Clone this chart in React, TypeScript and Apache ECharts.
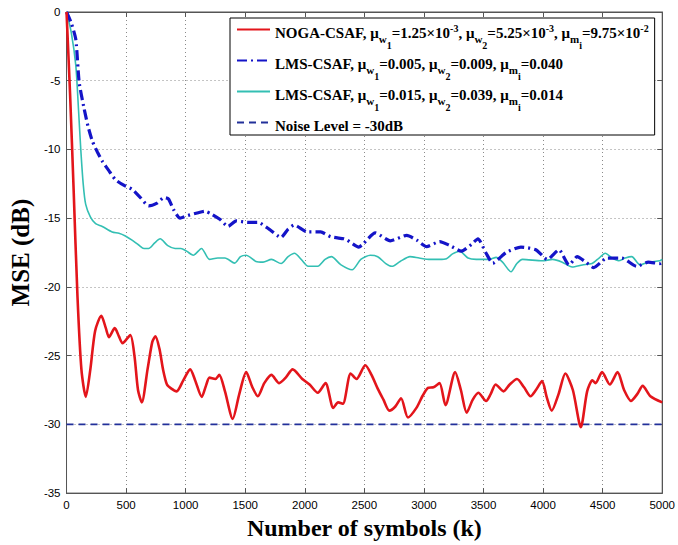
import React, { useEffect, useRef } from "react";
import * as echarts from "echarts";

const xTicks = [0, 500, 1000, 1500, 2000, 2500, 3000, 3500, 4000, 4500, 5000];
const yTicks = [0, -5, -10, -15, -20, -25, -30, -35];

const nogaCsaf: [number, number][] = [
  [0, 0], [30, -6], [60, -13], [92, -20.7], [125, -26], [162, -28], [200, -26], [240, -23.2], [292, -22.1],
  [330, -23], [356, -23.65], [405, -23.0], [440, -23.6], [470, -24.1], [535, -23.5], [570, -25], [600, -27.5],
  [632, -28.4], [680, -26], [720, -24], [746, -23.6], [780, -24.5], [810, -26], [843, -27.1], [880, -27.4],
  [924, -27.6], [980, -26.8], [1038, -26.0], [1080, -26.8], [1135, -28.0], [1170, -27.2], [1200, -26.6],
  [1249, -26.7], [1282, -26.4], [1330, -27.6], [1395, -29.6], [1450, -27.8], [1508, -26.2], [1560, -27.3],
  [1606, -27.95], [1660, -27], [1720, -26.4], [1785, -27.0], [1840, -26.6], [1898, -26.0], [1979, -26.7],
  [2040, -27.1], [2109, -27.7], [2174, -27.0], [2239, -28.8], [2280, -28.4], [2320, -28.5], [2385, -26.3],
  [2434, -26.7], [2508, -25.7], [2560, -26.4], [2612, -27.4], [2660, -28.2], [2710, -29.0], [2760, -28.7],
  [2808, -28.1], [2866, -29.5], [2937, -28.8], [2990, -27.9], [3034, -27.35], [3080, -27.3], [3131, -27.0],
  [3181, -28.6], [3262, -26.2], [3310, -27.5], [3359, -29.15], [3410, -28.2], [3457, -27.7], [3522, -28.3],
  [3560, -27.8], [3602, -27.1], [3668, -27.6], [3720, -27.1], [3781, -26.7], [3840, -27.3], [3895, -27.95],
  [3940, -27.5], [3992, -26.85], [4030, -28.0], [4073, -29.0], [4130, -27.8], [4187, -26.3], [4250, -27.5],
  [4317, -30.2], [4370, -27.6], [4414, -26.8], [4440, -27.0], [4495, -26.2], [4560, -27.1], [4625, -26.2],
  [4680, -27.5], [4738, -28.3], [4790, -27.8], [4836, -27.2], [4901, -27.95], [5000, -28.4],
];

const lmsCsafA: [number, number][] = [
  [0, 0], [40, -0.8], [78, -2.0], [106, -5.1], [147, -7.0], [180, -8.3], [217, -9.4], [260, -10.2],
  [300, -10.85], [360, -11.6], [411, -12.2], [480, -12.6], [550, -12.9], [620, -13.5], [689, -14.1],
  [760, -13.9], [820, -13.5], [856, -13.6], [900, -14.4], [953, -15.0], [1020, -14.8], [1106, -14.6],
  [1160, -14.5], [1217, -14.7], [1290, -15.1], [1356, -15.6], [1425, -15.2], [1520, -15.3], [1606, -15.3],
  [1700, -15.8], [1800, -16.4], [1860, -15.8], [1911, -15.5], [2022, -16.0], [2133, -16.0], [2217, -16.35],
  [2328, -16.5], [2356, -16.6], [2453, -17.1], [2481, -16.95], [2592, -16.07], [2717, -16.65], [2856, -16.25],
  [2940, -16.6], [3022, -17.07], [3133, -16.7], [3220, -17.0], [3314, -17.4], [3400, -16.9], [3453, -16.5],
  [3522, -17.55], [3578, -18.27], [3689, -17.5], [3814, -17.1], [3939, -17.3], [4036, -18.0], [4133, -17.3],
  [4217, -18.4], [4286, -17.8], [4360, -18.2], [4425, -18.6], [4536, -17.9], [4661, -17.9], [4786, -18.5],
  [4883, -18.2], [4981, -18.3], [5000, -18.2],
];

const lmsCsafB: [number, number][] = [
  [0, 0], [40, -1.5], [78, -3.9], [100, -7], [119, -9.9], [140, -12.5], [161, -14.0], [200, -14.9],
  [244, -15.4], [300, -15.6], [383, -16.0], [440, -16.1], [494, -16.3], [550, -16.6], [606, -16.95],
  [650, -17.2], [689, -17.2], [740, -16.8], [786, -16.5], [850, -17.0], [911, -17.2], [960, -17.2],
  [1008, -17.4], [1064, -17.7], [1133, -17.2], [1200, -18.0], [1270, -17.9], [1330, -17.9], [1412, -18.27],
  [1460, -17.8], [1508, -17.7], [1590, -18.15], [1650, -18.2], [1720, -18.0], [1801, -18.3], [1860, -17.8],
  [1914, -17.55], [1970, -18.0], [2028, -18.5], [2109, -18.5], [2170, -18.0], [2223, -17.8], [2304, -18.4],
  [2397, -18.75], [2470, -18.0], [2550, -17.7], [2612, -17.8], [2680, -18.3], [2731, -18.5], [2800, -18.15],
  [2883, -17.8], [2960, -17.9], [3050, -18.0], [3130, -18.0], [3189, -17.95], [3240, -17.6], [3300, -17.4],
  [3370, -17.9], [3439, -18.0], [3550, -18.0], [3606, -17.85], [3660, -18.2], [3731, -18.9], [3780, -18.3],
  [3828, -18.0], [3994, -18.1], [4080, -18.0], [4161, -18.2], [4244, -18.55], [4330, -18.4], [4411, -18.3],
  [4470, -17.9], [4522, -17.55], [4580, -17.9], [4633, -18.1], [4690, -17.9], [4744, -17.8], [4814, -18.4],
  [4880, -18.2], [4981, -18.1], [5000, -18.0],
];

const noiseLevel: [number, number][] = [[0, -30], [5000, -30]];

const seriesNames = ["NOGA-CSAF", "LMS-CSAF A", "LMS-CSAF B", "Noise Level = -30dB"];

const legendRich: Record<string, string> = {
  "NOGA-CSAF":
    "{a|NOGA-CSAF, μ}{w|w}{n|1}{a|=1.25×10}{s|-3}{a|, μ}{w|w}{n|2}{a|=5.25×10}{s|-3}{a|, μ}{w|m}{n|i}{a|=9.75×10}{s|-2}",
  "LMS-CSAF A": "{a|LMS-CSAF, μ}{w|w}{n|1}{a|=0.005, μ}{w|w}{n|2}{a|=0.009, μ}{w|m}{n|i}{a|=0.040}",
  "LMS-CSAF B": "{a|LMS-CSAF, μ}{w|w}{n|1}{a|=0.015, μ}{w|w}{n|2}{a|=0.039, μ}{w|m}{n|i}{a|=0.014}",
  "Noise Level = -30dB": "{a|Noise Level = -30dB}",
};

const serif = "'Liberation Serif', 'Times New Roman', serif";
const tickFont = "'Liberation Sans', Arial, sans-serif";

export default function App() {
  const ref = useRef<HTMLDivElement>(null);
  useEffect(() => {
    if (!ref.current) return;
    const chart = echarts.init(ref.current, undefined, { renderer: "svg" });
    const axisColor = "#555";
    const gridLine = { show: true, lineStyle: { color: "#8a8a8a", type: [1, 3] as any, width: 1 } };
    const tok = (fontSize: number, lineHeight: number, top: number) => ({
      fontFamily: serif,
      fontWeight: "bold",
      fontSize,
      lineHeight,
      padding: [top, 0, 0, 0],
      verticalAlign: "top",
      color: "#000",
    });
    chart.setOption({
      animation: false,
      backgroundColor: "#fff",
      grid: { left: 64, right: 14, top: 12, bottom: 45, show: true, borderColor: axisColor, borderWidth: 1 },
      legend: {
        show: true,
        data: seriesNames,
        orient: "vertical",
        left: 230,
        top: 18,
        padding: [3, 6, 2, 6],
        itemGap: 2,
        itemWidth: 33,
        itemHeight: 12,
        backgroundColor: "#fff",
        borderColor: "#000",
        borderWidth: 1,
        borderRadius: 0,
        selectedMode: false,
        itemStyle: { opacity: 0 },
        formatter: (name: string) => legendRich[name] || name,
        textStyle: {
          fontFamily: serif,
          fontWeight: "bold",
          fontSize: 15,
          color: "#000",
          rich: {
            a: tok(15, 17, 4),
            w: tok(11, 11, 12),
            n: tok(10, 10, 19),
            s: tok(10, 10, 2),
          },
        },
      },
      xAxis: [
        {
          type: "value",
          min: 0,
          max: 5000,
          interval: 500,
          name: "Number of symbols (k)",
          nameLocation: "middle",
          nameGap: 12,
          nameTextStyle: { fontFamily: serif, fontWeight: "bold", fontSize: 24, color: "#000" },
          axisLine: { show: true, onZero: false, lineStyle: { color: axisColor, width: 1 } },
          axisTick: { show: true, inside: true, length: 5, lineStyle: { color: axisColor } },
          axisLabel: {
            fontFamily: tickFont,
            fontSize: 11.5,
            color: "#000",
            margin: 6,
            formatter: (v: number) => (xTicks.includes(v) ? String(v) : ""),
          },
          splitLine: gridLine,
        },
        {
          type: "value",
          position: "top",
          min: 0,
          max: 5000,
          interval: 500,
          axisLine: { show: true, onZero: false, lineStyle: { color: axisColor } },
          axisTick: { show: true, inside: true, length: 5, lineStyle: { color: axisColor } },
          axisLabel: { show: false },
          splitLine: { show: false },
        },
      ],
      yAxis: [
        {
          type: "value",
          min: -35,
          max: 0,
          interval: 5,
          name: "MSE (dB)",
          nameLocation: "middle",
          nameGap: 27,
          nameTextStyle: { fontFamily: serif, fontWeight: "bold", fontSize: 25, color: "#000" },
          axisLine: { show: true, onZero: false, lineStyle: { color: axisColor, width: 1 } },
          axisTick: { show: true, inside: true, length: 5, lineStyle: { color: axisColor } },
          axisLabel: {
            fontFamily: tickFont,
            fontSize: 11.5,
            color: "#000",
            margin: 6,
            formatter: (v: number) => (yTicks.includes(v) ? String(v) : ""),
          },
          splitLine: gridLine,
        },
        {
          type: "value",
          position: "right",
          min: -35,
          max: 0,
          interval: 5,
          axisLine: { show: true, onZero: false, lineStyle: { color: axisColor } },
          axisTick: { show: true, inside: true, length: 5, lineStyle: { color: axisColor } },
          axisLabel: { show: false },
          splitLine: { show: false },
        },
      ],
      series: [
        {
          name: seriesNames[0],
          type: "line",
          data: nogaCsaf,
          symbol: "none",
          smooth: 0.25,
          z: 5,
          lineStyle: { color: "#e3151b", width: 2.6 },
          itemStyle: { color: "#e3151b" },
        },
        {
          name: seriesNames[1],
          type: "line",
          data: lmsCsafA,
          symbol: "none",
          smooth: 0.2,
          z: 4,
          lineStyle: { color: "#1414c8", width: 3.2, type: [10, 4, 2, 4] as any },
          itemStyle: { color: "#1414c8" },
        },
        {
          name: seriesNames[2],
          type: "line",
          data: lmsCsafB,
          symbol: "none",
          smooth: 0.25,
          z: 3,
          lineStyle: { color: "#33bfb3", width: 1.6 },
          itemStyle: { color: "#33bfb3" },
        },
        {
          name: seriesNames[3],
          type: "line",
          data: noiseLevel,
          symbol: "none",
          z: 2,
          lineStyle: { color: "#22309a", width: 1.6, type: [7, 5] as any },
          itemStyle: { color: "#22309a" },
        },
      ],
    });
    return () => chart.dispose();
  }, []);
  return <div ref={ref} style={{ width: 678, height: 545, position: "absolute", left: 0, top: 0, background: "#fff" }} />;
}
